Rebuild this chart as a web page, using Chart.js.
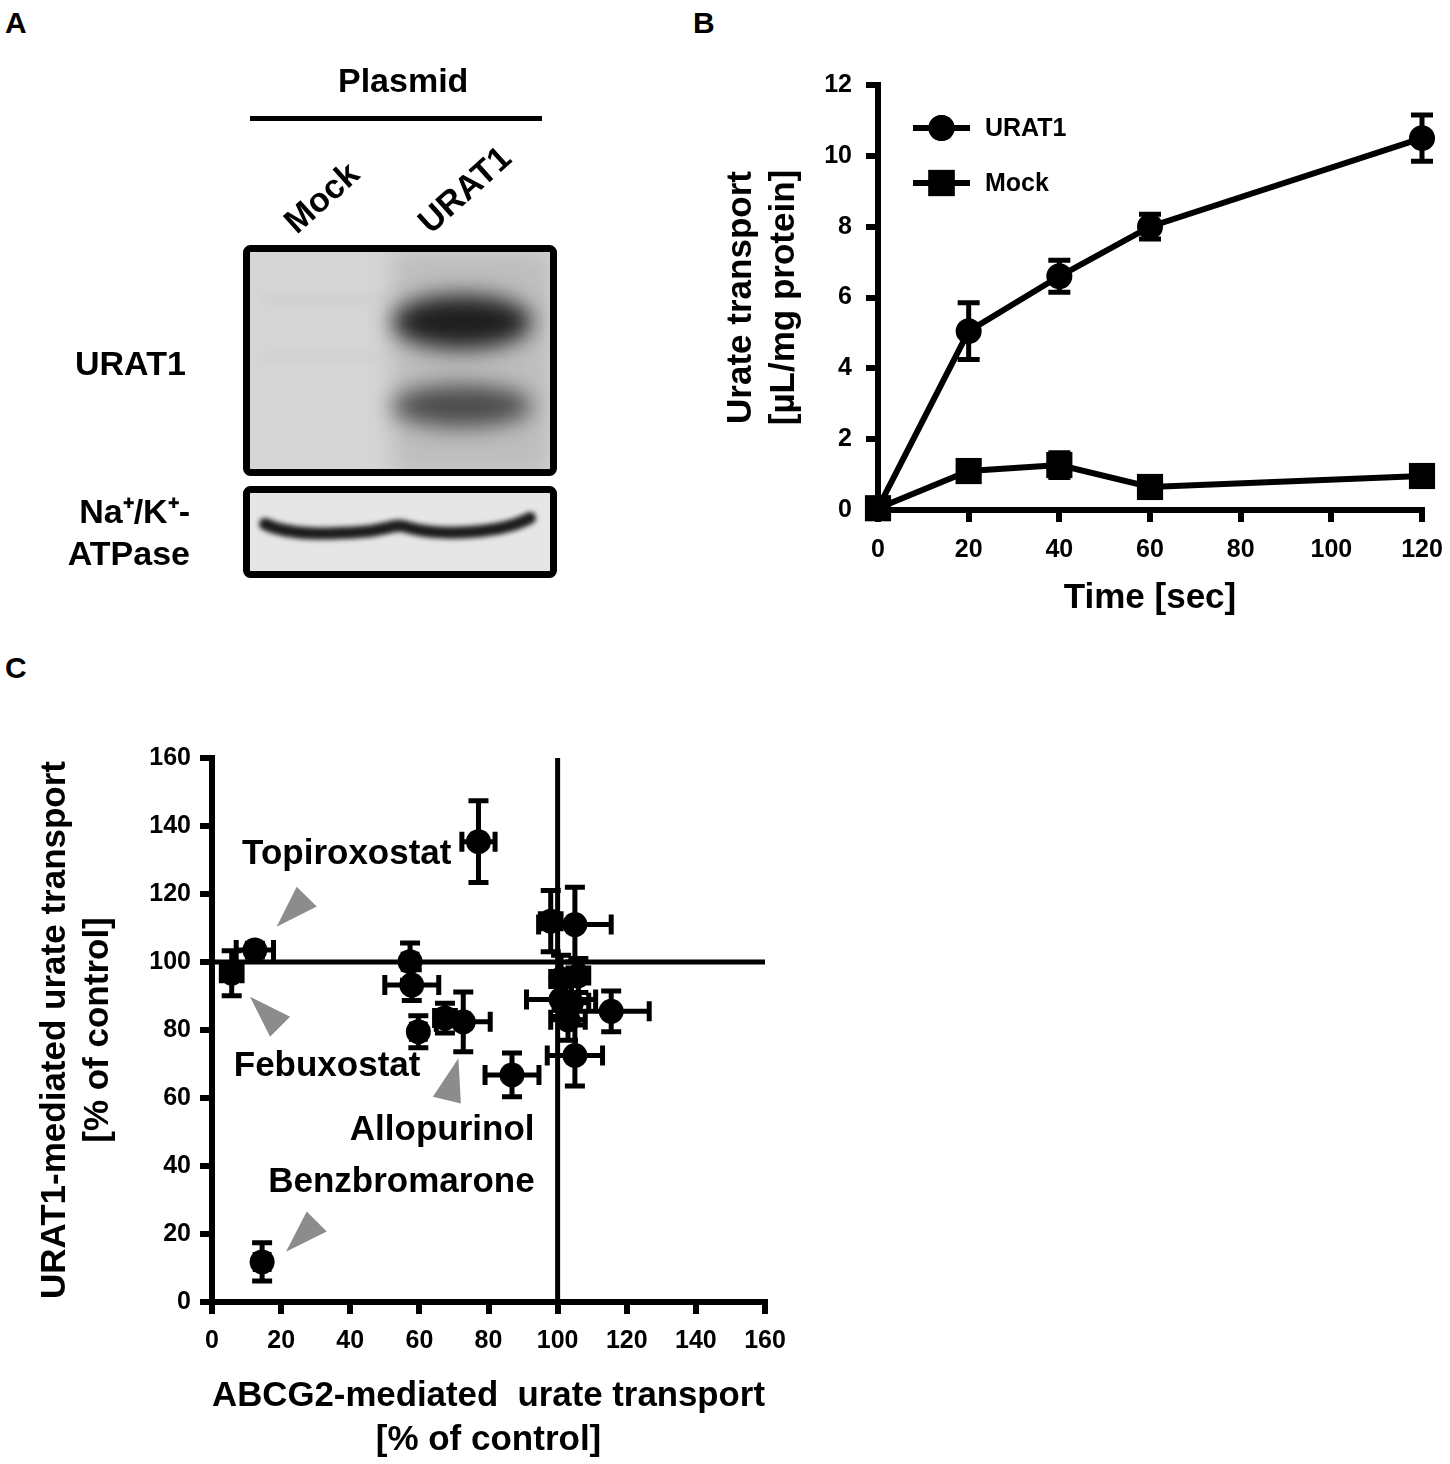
<!DOCTYPE html>
<html>
<head>
<meta charset="utf-8">
<script src="https://cdn.jsdelivr.net/npm/chart.js@4.4.1/dist/chart.umd.min.js"></script>
<style>
  body { margin: 0; background: #fff; width: 1450px; height: 1464px; position: relative; overflow: hidden;
         font-family: "Liberation Sans", Arial, sans-serif; font-weight: bold; color: #000; }
  .abs { position: absolute; white-space: pre; line-height: 1; }
  .tag { font-size: 30px; }
  .lbl { font-size: 34px; }
  #panelA { position: absolute; left: 0; top: 0; }
  #chartB { position: absolute; left: 700px; top: 50px; }
  #chartC { position: absolute; left: 0; top: 700px; }
</style>
</head>
<body>

<div class="abs tag" style="left:5px;top:8px">A</div>
<div class="abs tag" style="left:693px;top:8px">B</div>
<div class="abs tag" style="left:5px;top:653px">C</div>

<!-- panel A : western blot -->
<canvas id="panelA" width="690" height="640"></canvas>
<div class="abs lbl" style="left:338px;top:63px">Plasmid</div>
<div class="abs lbl" style="left:321px;top:197px;transform:translate(-50%,-50%) rotate(-42deg)">Mock</div>
<div class="abs lbl" style="left:464px;top:189px;transform:translate(-50%,-50%) rotate(-42deg)">URAT1</div>
<div class="abs lbl" style="left:75px;top:346px">URAT1</div>
<div class="abs lbl" style="right:1260px;top:494px;text-align:right">Na⁺/K⁺-</div>
<div class="abs lbl" style="right:1260px;top:536px;text-align:right">ATPase</div>

<canvas id="chartB" width="750" height="590"></canvas>
<canvas id="chartC" width="800" height="764"></canvas>

<script>
// ---- data, panel B (time course) ----
const timeSec = [0, 20, 40, 60, 120];
const urat1Uptake = [0.05, 5.05, 6.6, 8.0, 10.5];
const urat1Sem = [0.1, 0.8, 0.45, 0.35, 0.65];
const mockUptake = [0.05, 1.1, 1.27, 0.65, 0.96];
const mockSem = [0.1, 0.2, 0.35, 0.15, 0.15];

// ---- data, panel C (screening, % of control) ----
const abcg2Pct = [14.5, 5.7, 12.4, 57.3, 57.8, 59.7, 67.4, 72.7, 86.8, 77.1,
                  98, 105, 106, 101, 115.5, 103, 104, 105, 101];
const abcg2Sem = [2, 3, 5.4, 2, 7.8, 2, 3, 7.8, 7.8, 4.8,
                  3, 10.5, 3, 10, 11, 5, 5, 8, 3];
const urat1Pct = [11.8, 96.7, 103.5, 100.1, 93.2, 79.5, 83.5, 82.4, 66.8, 135.4,
                  112, 111, 96, 89, 85.5, 83, 88, 72.5, 95];
const urat1PctSem = [5.6, 6.6, 2, 5.5, 4.5, 4.7, 4.4, 8.8, 6.4, 12,
                     9, 11, 5, 5, 6, 6, 5, 9, 7];

// annotation labels and arrowheads (data units)
const noteNames = ["Topiroxostat", "Febuxostat", "Allopurinol", "Benzbromarone"];
const noteX = [39, 33.3, 66.6, 54.8];
const noteY = [131.8, 69.4, 50.6, 35.3];
const arrowHeads = [
  [[24.5, 122.1], [30.3, 116.3], [18.7, 110.4]],
  [[11, 89.8], [22.6, 83.9], [16.8, 78]],
  [[71.3, 71.7], [63.9, 60.4], [72.0, 58.4]],
  [[27.4, 26.6], [33.2, 20.7], [21.4, 14.8]]
];

const FONT = '"Liberation Sans", Arial, sans-serif';

// ---- panel A blot (image, drawn freehand) ----
(function drawBlot() {
  const c = document.getElementById("panelA").getContext("2d");
  // plasmid bar
  c.fillStyle = "#000";
  c.fillRect(250, 116, 292, 5);

  // upper blot
  c.save();
  c.beginPath();
  c.rect(250, 252, 300, 218);
  c.clip();
  c.fillStyle = "#d6d6d6";
  c.fillRect(250, 252, 300, 218);
  c.filter = "blur(12px)";
  c.fillStyle = "#bdbdbd";
  c.fillRect(392, 250, 160, 225);
  c.filter = "blur(4px)";
  c.fillStyle = "#cbcbcb";
  c.fillRect(262, 296, 130, 5);
  c.fillRect(262, 355, 130, 4);
  c.filter = "blur(11px)";
  c.fillStyle = "#1e1e1e";
  c.beginPath();
  c.ellipse(462, 322, 70, 27, 0, 0, Math.PI * 2);
  c.fill();
  c.fillStyle = "#4a4a4a";
  c.beginPath();
  c.ellipse(462, 406, 70, 21, 0, 0, Math.PI * 2);
  c.fill();
  c.restore();
  c.lineWidth = 7;
  c.strokeStyle = "#000";
  c.beginPath();
  c.roundRect(246.5, 248.5, 307, 224, 4);
  c.stroke();

  // lower blot
  c.save();
  c.beginPath();
  c.rect(250, 493, 300, 79);
  c.clip();
  c.fillStyle = "#e6e6e6";
  c.fillRect(250, 493, 300, 79);
  c.filter = "blur(2.5px)";
  c.strokeStyle = "#1c1c1c";
  c.lineWidth = 12;
  c.lineCap = "round";
  c.beginPath();
  c.moveTo(265, 524);
  c.bezierCurveTo(290, 536, 330, 534, 360, 532);
  c.bezierCurveTo(390, 530, 395, 522, 410, 528);
  c.bezierCurveTo(440, 536, 500, 534, 530, 518);
  c.stroke();
  c.restore();
  c.lineWidth = 7;
  c.strokeStyle = "#000";
  c.beginPath();
  c.roundRect(246.5, 489.5, 307, 85, 4);
  c.stroke();
})();

// ---- plugins ----
const errorBars = {
  id: "errorBars",
  beforeDatasetsDraw(chart, args, opts) {
    const { ctx, scales: { x, y } } = chart;
    const cap = opts.cap || 10;
    ctx.save();
    ctx.strokeStyle = "#000";
    ctx.lineWidth = opts.width || 4;
    chart.data.datasets.forEach((ds, i) => {
      if (!chart.isDatasetVisible(i)) return;
      ds.data.forEach((p, j) => {
        const px = x.getPixelForValue(p.x);
        const py = y.getPixelForValue(p.y);
        const ye = ds.yErr ? ds.yErr[j] : 0;
        const xe = ds.xErr ? ds.xErr[j] : 0;
        ctx.beginPath();
        if (ye) {
          const y1 = y.getPixelForValue(p.y + ye);
          const y2 = y.getPixelForValue(p.y - ye);
          ctx.moveTo(px, y1); ctx.lineTo(px, y2);
          ctx.moveTo(px - cap, y1); ctx.lineTo(px + cap, y1);
          ctx.moveTo(px - cap, y2); ctx.lineTo(px + cap, y2);
        }
        if (xe) {
          const x1 = x.getPixelForValue(p.x - xe);
          const x2 = x.getPixelForValue(p.x + xe);
          ctx.moveTo(x1, py); ctx.lineTo(x2, py);
          ctx.moveTo(x1, py - cap); ctx.lineTo(x1, py + cap);
          ctx.moveTo(x2, py - cap); ctx.lineTo(x2, py + cap);
        }
        ctx.stroke();
      });
    });
    ctx.restore();
  }
};

const insetLegend = {
  id: "insetLegend",
  afterDatasetsDraw(chart) {
    const { ctx, chartArea } = chart;
    ctx.save();
    chart.data.datasets.forEach((ds, i) => {
      const yy = chartArea.top + 43 + i * 55;
      const x0 = chartArea.left + 35, x1 = chartArea.left + 92;
      ctx.strokeStyle = "#000";
      ctx.lineWidth = 6;
      ctx.beginPath();
      ctx.moveTo(x0, yy); ctx.lineTo(x1, yy);
      ctx.stroke();
      ctx.fillStyle = "#000";
      Chart.helpers.drawPoint(ctx, { pointStyle: ds.pointStyle, radius: ds.pointRadius, borderWidth: 0 }, (x0 + x1) / 2, yy);
      ctx.fill();
      ctx.font = "bold 25px " + FONT;
      ctx.textBaseline = "middle";
      ctx.fillText(ds.label, chartArea.left + 107, yy + 1);
    });
    ctx.restore();
  }
};

const refLines = {
  id: "refLines",
  beforeDatasetsDraw(chart) {
    const { ctx, chartArea, scales: { x, y } } = chart;
    const px = x.getPixelForValue(100), py = y.getPixelForValue(100);
    ctx.save();
    ctx.strokeStyle = "#000";
    ctx.lineWidth = 5;
    ctx.beginPath();
    ctx.moveTo(px, chartArea.top); ctx.lineTo(px, chartArea.bottom);
    ctx.moveTo(chartArea.left, py); ctx.lineTo(chartArea.right, py);
    ctx.stroke();
    ctx.restore();
  }
};

const notes = {
  id: "notes",
  afterDatasetsDraw(chart) {
    const { ctx, scales: { x, y } } = chart;
    ctx.save();
    ctx.fillStyle = "#8c8c8c";
    arrowHeads.forEach(tri => {
      ctx.beginPath();
      tri.forEach((v, k) => {
        const fx = x.getPixelForValue(v[0]), fy = y.getPixelForValue(v[1]);
        k ? ctx.lineTo(fx, fy) : ctx.moveTo(fx, fy);
      });
      ctx.closePath();
      ctx.fill();
    });
    ctx.fillStyle = "#000";
    ctx.font = "bold 35px " + FONT;
    ctx.textAlign = "center";
    ctx.textBaseline = "middle";
    noteNames.forEach((n, k) => {
      ctx.fillText(n, x.getPixelForValue(noteX[k]), y.getPixelForValue(noteY[k]));
    });
    ctx.restore();
  }
};

// ---- shared axis styling ----
function axis(min, max, step, tickPad, title, titlePad, fit) {
  return {
    type: "linear", min: min, max: max,
    border: { display: true, color: "#000", width: 6 },
    grid: { drawOnChartArea: false, drawTicks: true, tickLength: 12, color: "#000", lineWidth: 6 },
    ticks: { stepSize: step, color: "#000", padding: tickPad, font: { family: FONT, size: 25, weight: "bold" } },
    title: { display: true, text: title, color: "#000", padding: titlePad,
             font: { family: FONT, size: 35, weight: "bold", lineHeight: 1.25 } },
    afterFit: fit
  };
}

// ---- panel B ----
new Chart(document.getElementById("chartB"), {
  type: "scatter",
  data: {
    datasets: [
      {
        label: "URAT1",
        data: timeSec.map((t, i) => ({ x: t, y: urat1Uptake[i] })),
        yErr: urat1Sem,
        showLine: true, borderColor: "#000", borderWidth: 6,
        pointStyle: "circle", pointRadius: 13, pointBackgroundColor: "#000", pointBorderWidth: 0,
        clip: false, order: 1
      },
      {
        label: "Mock",
        data: timeSec.map((t, i) => ({ x: t, y: mockUptake[i] })),
        yErr: mockSem,
        showLine: true, borderColor: "#000", borderWidth: 6,
        pointStyle: "rect", pointRadius: 18.5, pointBackgroundColor: "#000", pointBorderWidth: 0,
        clip: false, order: 0
      }
    ]
  },
  options: {
    responsive: false,
    animation: false,
    events: [],
    layout: { padding: { top: 35, right: 28, left: 0, bottom: 0 } },
    plugins: { legend: { display: false }, tooltip: { enabled: false }, errorBars: { width: 5, cap: 11 } },
    scales: {
      x: axis(0, 120, 20, 13, "Time [sec]", { top: 0, bottom: 20 },
              s => { s.height = 130; s.paddingLeft = 0; s.paddingRight = 0; }),
      y: axis(0, 12, 2, 14, ["Urate transport", "[µL/mg protein]"], { top: 19, bottom: 0 }, s => { s.width = 178; })
    }
  },
  plugins: [errorBars, insetLegend]
});

// ---- panel C ----
new Chart(document.getElementById("chartC"), {
  type: "scatter",
  data: {
    datasets: [{
      label: "compounds",
      data: abcg2Pct.map((v, i) => ({ x: v, y: urat1Pct[i] })),
      xErr: abcg2Sem,
      yErr: urat1PctSem,
      pointStyle: "circle", pointRadius: 12.5, pointBackgroundColor: "#000", pointBorderWidth: 0,
      clip: false
    }]
  },
  options: {
    responsive: false,
    animation: false,
    events: [],
    layout: { padding: { top: 58, right: 35, left: 0, bottom: 0 } },
    plugins: { legend: { display: false }, tooltip: { enabled: false }, errorBars: { width: 5, cap: 10 } },
    scales: {
      x: axis(0, 160, 20, 12, ["ABCG2-mediated  urate transport", "[% of control]"], { top: 0, bottom: 2 },
              s => { s.height = 162; s.paddingLeft = 0; s.paddingRight = 0; }),
      y: axis(0, 160, 20, 9, ["URAT1-mediated urate transport", "[% of control]"], { top: 33, bottom: 0 }, s => { s.width = 212; })
    }
  },
  plugins: [refLines, errorBars, notes]
});
</script>
</body>
</html>
